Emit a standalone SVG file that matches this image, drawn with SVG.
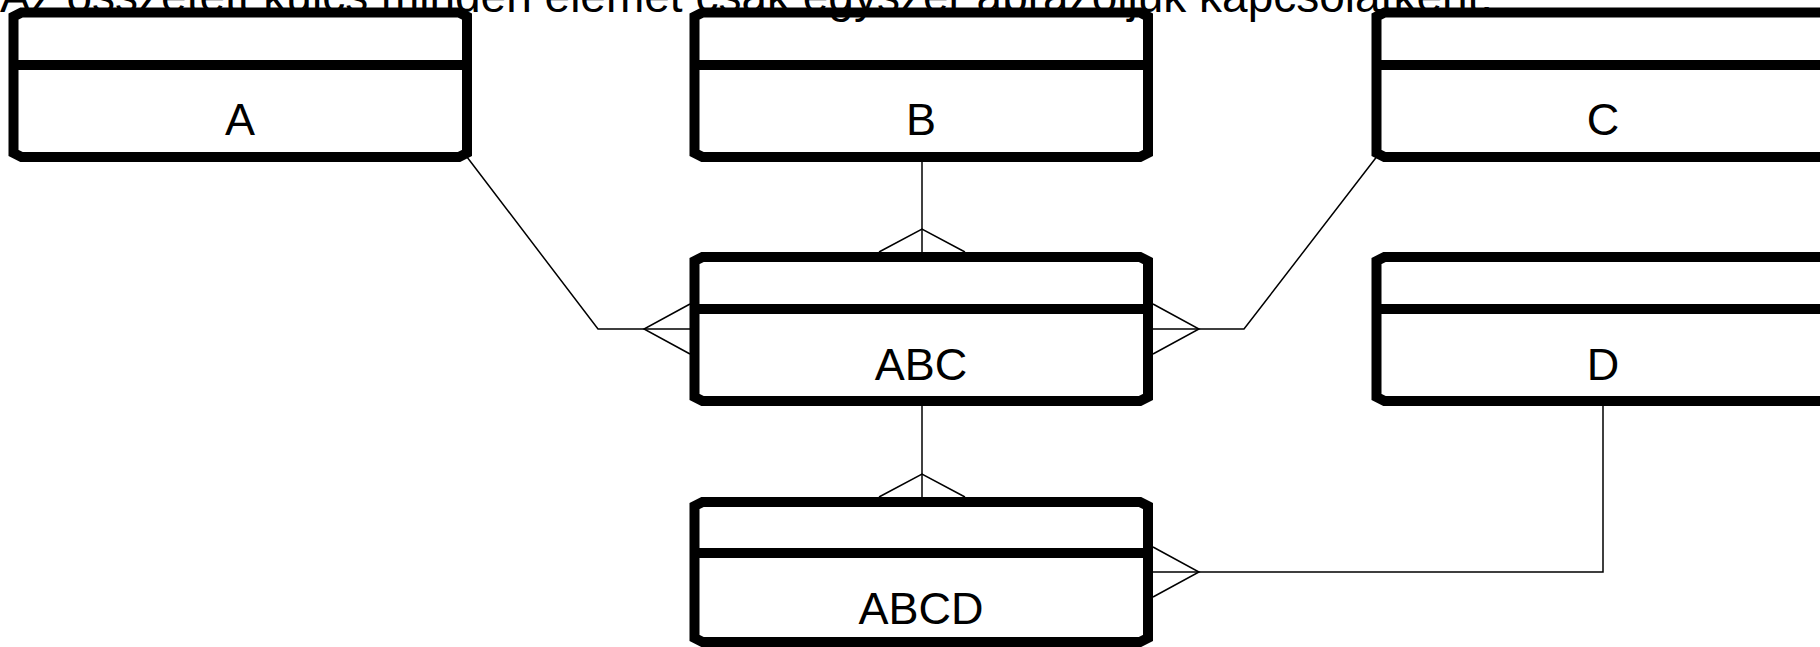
<svg xmlns="http://www.w3.org/2000/svg" width="1820" height="647" viewBox="0 0 1820 647">
<style>
.box{fill:#fff;stroke:#000;stroke-width:10;stroke-linejoin:miter}
.div{stroke:#000;stroke-width:10}
.lbl{font-family:"Liberation Sans",Arial,sans-serif;font-size:45px;text-anchor:middle;fill:#000}
.title{font-family:"Liberation Sans",Arial,sans-serif;font-size:46px;fill:#000}
.con{fill:none;stroke:#000;stroke-width:1.5}
</style>
<rect width="1820" height="647" fill="#fff"/>
<g id="connectors">
<polyline class="con" points="467,157 598,329 690,329"/>
<polyline class="con" points="690,304 644,329 690,354"/>
<line class="con" x1="922" y1="162" x2="922" y2="252"/>
<polyline class="con" points="879,252 922,229 965,252"/>
<polyline class="con" points="1376.5,157 1244,329 1153,329"/>
<polyline class="con" points="1153,304 1199,329 1153,354"/>
<line class="con" x1="922" y1="406" x2="922" y2="497"/>
<polyline class="con" points="879,497 922,474 965,497"/>
<polyline class="con" points="1603,406 1603,572 1153,572"/>
<polyline class="con" points="1153,547 1199,572 1153,597"/>
</g>
<g id="A">
<path class="box" d="M21.5,12.5 H459 L467,16.5 V153 L459,157 H21.5 L13.5,153 V16.5 Z"/>
<line class="div" x1="13.5" y1="65" x2="467" y2="65"/>
<text class="lbl" x="240" y="135">A</text>
</g>
<g id="B">
<path class="box" d="M702.5,12.5 H1140 L1148,16.5 V153 L1140,157 H702.5 L694.5,153 V16.5 Z"/>
<line class="div" x1="694.5" y1="65" x2="1148" y2="65"/>
<text class="lbl" x="921" y="135">B</text>
</g>
<g id="C">
<path class="box" d="M1384.5,12.5 H1822 L1830,16.5 V153 L1822,157 H1384.5 L1376.5,153 V16.5 Z"/>
<line class="div" x1="1376.5" y1="65" x2="1830" y2="65"/>
<text class="lbl" x="1603" y="135">C</text>
</g>
<g id="ABC">
<path class="box" d="M702.5,257 H1140 L1148,261 V397 L1140,401 H702.5 L694.5,397 V261 Z"/>
<line class="div" x1="694.5" y1="309" x2="1148" y2="309"/>
<text class="lbl" x="921" y="379.5">ABC</text>
</g>
<g id="D">
<path class="box" d="M1384.5,257 H1822 L1830,261 V397 L1822,401 H1384.5 L1376.5,397 V261 Z"/>
<line class="div" x1="1376.5" y1="309" x2="1830" y2="309"/>
<text class="lbl" x="1603" y="379.5">D</text>
</g>
<g id="ABCD">
<path class="box" d="M702.5,502 H1140 L1148,506 V638 L1140,642 H702.5 L694.5,638 V506 Z"/>
<line class="div" x1="694.5" y1="553" x2="1148" y2="553"/>
<text class="lbl" x="921" y="624">ABCD</text>
</g>
<text class="title" x="0" y="12">Az összetett kulcs minden elemet csak egyszer ábrázoljuk kapcsolatként.</text>
</svg>
